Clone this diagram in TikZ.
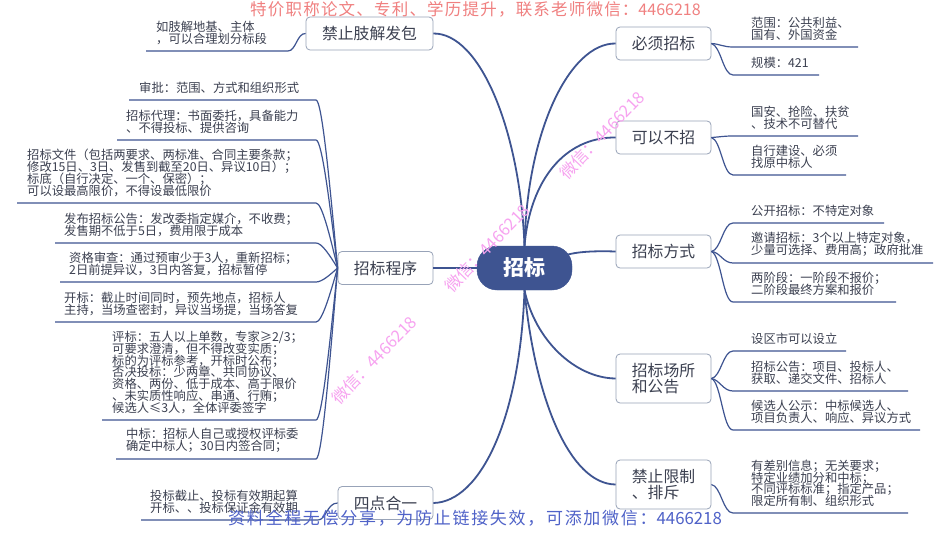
\documentclass[tikz,border=0pt]{standalone}
\usepackage{fontspec}
\setmainfont{Noto Sans CJK SC}
\usetikzlibrary{calc}
\definecolor{navy}{HTML}{3E5491}
\definecolor{ink}{HTML}{3B4050}
\definecolor{edgegray}{HTML}{98A3B8}
\definecolor{wmred}{HTML}{F08080}
\definecolor{wmblue}{HTML}{4F62C8}
\definecolor{wmpink}{HTML}{F7A3F0}
\newcommand\tightlines{\setlength{\lineskiplimit}{-30pt}\setlength{\lineskip}{0pt}}
\tikzset{
  hub/.style={fill=navy,draw=navy,rounded corners=20pt,minimum width=95pt,minimum height=44pt,inner sep=0pt,text=white,font=\fontsize{21}{22}\selectfont\bfseries},
  branch/.style={draw=edgegray,line width=0.8pt,fill=white,rounded corners=4pt,inner sep=0pt,text=ink,align=left,font=\fontsize{15.8}{16.5}\selectfont\tightlines},
  leaf/.style={anchor=south west,inner sep=0pt,text=ink,align=left,font=\fontsize{12.3}{11.85}\selectfont\tightlines},
  mainline/.style={draw=navy,line width=1.8pt},
  leafline/.style={draw=navy,line width=1.2pt},
  wm/.style={inner sep=0pt},
  wmslant/.style={inner sep=0pt,text=wmpink,rotate=46,font=\fontsize{16.5}{18}\selectfont}
}
% name, branch, line y, line left end, text x, text
\newcommand\leafL[6]{%
  \node[leaf] (#1) at (#5,#3-6) {#6};
  \coordinate (#1a) at (#4,#3);
  \coordinate (#1b) at (316,#3);
  \draw[leafline] (#2.west) .. controls ($(#2.west)!.5!(322,#3)$) and (322,#3) .. (#1b) -- (#1a);
}
% name, branch, line y, line right end, text, first control point
\newcommand\leafRr[6]{%
  \node[leaf] (#1) at (751,#3-6) {#5};
  \coordinate (#1a) at (733,#3);
  \coordinate (#1b) at (#4,#3);
  \draw[leafline] (#2.east) .. controls (#6) and (723,#3) .. (#1a) -- (#1b);
}
\begin{document}
\begin{tikzpicture}[x=1pt,y=-1pt]
\useasboundingbox (0,0) rectangle (950,535);
\fill[white] (0,0) rectangle (950,535);
% main connectors
\node[hub] (hub) at (524.5,268) {招标};
\node[branch,minimum width=127pt,minimum height=33pt] (b1) at (369.5,33.5) {禁止肢解发包};
\node[branch,minimum width=95pt,minimum height=33pt] (b2) at (385.5,268) {招标程序};
\node[branch,minimum width=95pt,minimum height=33pt] (b3) at (385.5,503) {四点合一};
\node[branch,minimum width=95pt,minimum height=33pt] (b4) at (663.5,43.5) {必须招标};
\node[branch,minimum width=95pt,minimum height=33pt] (b5) at (663.5,137.5) {可以不招};
\node[branch,minimum width=95pt,minimum height=33pt] (b6) at (663.5,251.5) {招标方式};
\node[branch,minimum width=95pt,minimum height=49pt] (b7) at (663.5,378.5) {招标场所\\和公告};
\node[branch,minimum width=95pt,minimum height=49pt] (b8) at (663.5,484.5) {禁止限制\\、排斥};
\draw[mainline] (hub.north) .. controls (520,130) and (480,33) .. (b1.east);
\draw[mainline] (hub.west) -- (b2.east);
\draw[mainline] (hub.south) .. controls (520,420) and (480,502) .. (b3.east);
\draw[mainline] (hub.north) .. controls (527,130) and (570,43) .. (b4.west);
\draw[mainline] (hub.north) .. controls (530,180) and (565,137) .. (b5.west);
\draw[mainline] (hub.east) ++(-6,-13) coordinate (hubne) (hubne) .. controls (580,251) and (600,251) .. (b6.west);
\draw[mainline] (hub.south) .. controls (535,340) and (575,378) .. (b7.west);
\draw[mainline] (hub.south) .. controls (535,400) and (570,484) .. (b8.west);
% left leaves
\node[leaf] (l0) at (156,45) {如肢解地基、主体\\，可以合理划分标段};
\coordinate (l0a) at (146,51);
\coordinate (l0b) at (288,51);
\draw[leafline] (b1.west) .. controls (297,33) and (296,51) .. (l0b) -- (l0a);
\leafL{l1}{b2}{100}{129}{139}{审批：范围、方式和组织形式}
\leafL{l2}{b2}{140}{117}{126}{招标代理：书面委托，具备能力\\、不得投标、提供咨询}
\leafL{l3}{b2}{203}{17}{27}{招标文件（包括两要求、两标准、合同主要条款；\\修改15日、3日、发售到截至20日、异议10日）；\\标底（自行决定、一个、保密）；\\可以设最高限价，不得设最低限价}
\leafL{l4}{b2}{243}{55}{64}{发布招标公告：发改委指定媒介，不收费；\\发售期不低于5日，费用限于成本}
\leafL{l5}{b2}{282}{60}{69}{资格审查：通过预审少于3人，重新招标；\\2日前提异议，3日内答复，招标暂停}
\leafL{l6}{b2}{322}{55}{64}{开标：截止时间同时，预先地点，招标人\\主持，当场查密封，异议当场提，当场答复}
\leafL{l7}{b2}{420}{102}{112}{评标：五人以上单数，专家≥2/3；\\可要求澄清，但不得改变实质；\\标的为评标参考，开标时公布；\\否决投标：少两章、共同协议、\\资格、两份、低于成本、高于限价\\、未实质性响应、串通、行贿；\\候选人≤3人，全体评委签字}
\leafL{l8}{b2}{459}{116}{126}{中标：招标人自己或授权评标委\\确定中标人；30日内签合同；}
\node[leaf] (l9) at (150,514) {投标截止、投标有效期起算\\开标、、投标保证金有效期};
\coordinate (l9a) at (141,520);
\coordinate (l9b) at (318,520);
\draw[leafline] (b3.west) .. controls (327,503) and (326,520) .. (l9b) -- (l9a);
% right leaves
\leafRr{r1}{b4}{47}{858}{范围：公共利益、\\国有、外国资金}{720,44}
\leafRr{r2}{b4}{75}{819}{规模：421}{721,46}
\leafRr{r3}{b5}{136}{858}{国安、抢险、扶贫\\、技术不可替代}{720,137}
\leafRr{r4}{b5}{175}{846}{自行建设、必须\\找原中标人}{721,140}
\leafRr{r5}{b6}{223}{884}{公开招标：不特定对象}{721,250}
\leafRr{r6}{b6}{263}{933}{邀请招标：3个以上特定对象，\\少量可选择、费用高；政府批准}{720,252}
\leafRr{r7}{b6}{302}{896}{两阶段：一阶段不报价；\\二阶段最终方案和报价}{721,255}
\leafRr{r8}{b7}{351}{846}{设区市可以设立}{721,377}
\leafRr{r9}{b7}{391}{908}{招标公告：项目、投标人、\\获取、递交文件、招标人}{720,380}
\leafRr{r10}{b7}{430}{920}{候选人公示：中标候选人、\\项目负责人、响应、异议方式}{721,382}
\leafRr{r11}{b8}{513}{908}{有差别信息；无关要求；\\特定业绩加分和中标；\\不同评标标准；指定产品；\\限定所有制、组织形式}{721,486}
% watermarks
\node[wm,text=wmred,anchor=west] (w1) at (250,9) {\fontsize{16.5}{18}\selectfont{\addfontfeature{LetterSpace=7.3}特价职称论文、专利、学历提升，联系老师微信：}\fontsize{16}{18}\selectfont 4466218};
\node[wm,text=wmblue,anchor=west] (w2) at (228,518) {\fontsize{17}{18}\selectfont{\addfontfeature{LetterSpace=10}资料全程无偿分享，为防止链接失效，可添加微信：}\fontsize{16.8}{18}\selectfont 4466218};
\node[wmslant] (w3) at (602,135) {微信：4466218};
\node[wmslant] (w4) at (487,248) {微信：4466218};
\node[wmslant] (w5) at (374,360) {微信：4466218};
\end{tikzpicture}
\end{document}
